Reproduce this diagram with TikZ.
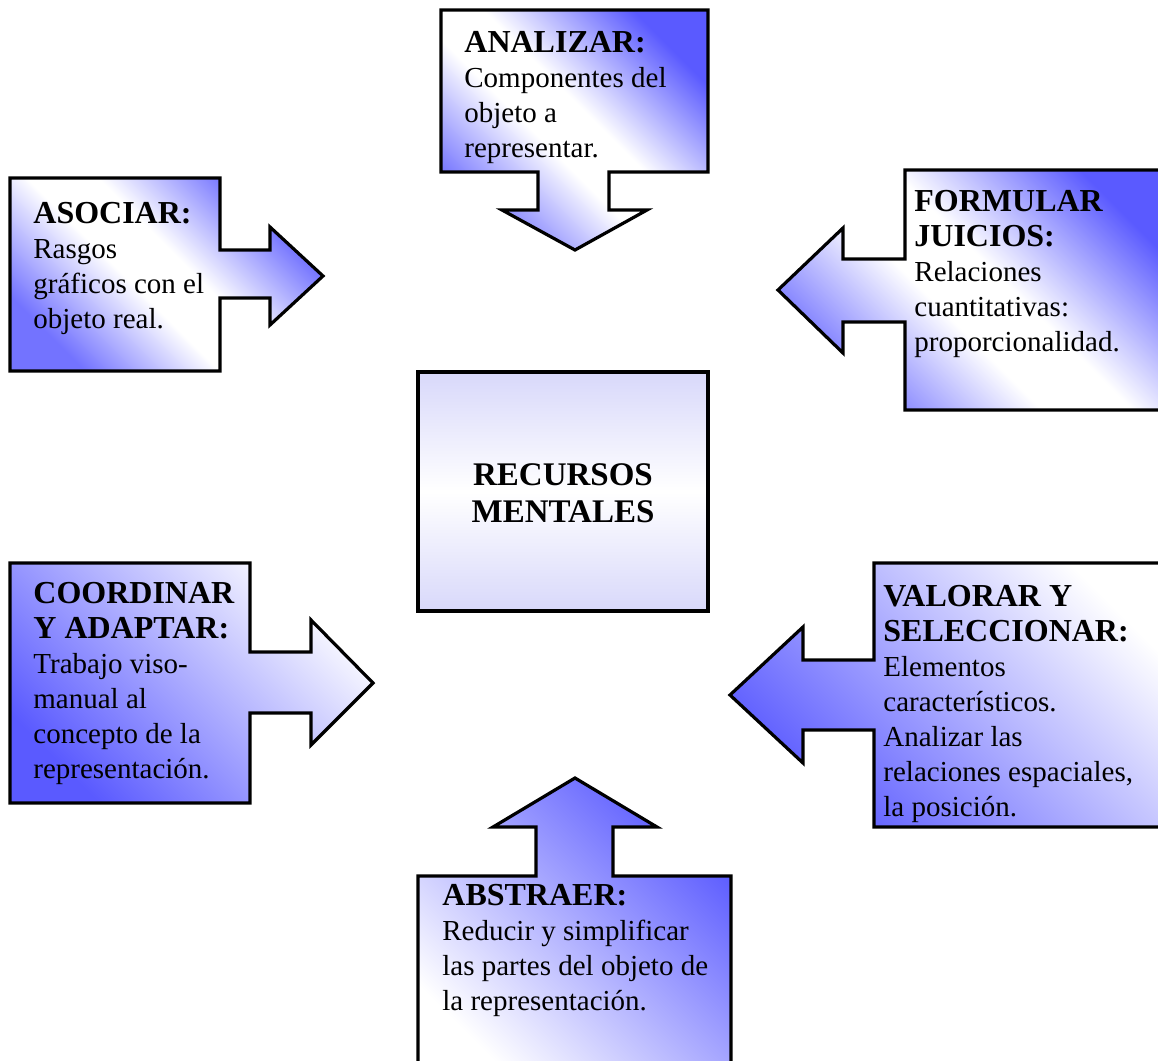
\documentclass[tikz,border=0pt]{standalone}
\usepackage{fontspec}
\setmainfont{Liberation Serif}
\usepackage{xcolor}
\definecolor{cblue}{HTML}{5A5AFF}
\definecolor{clav}{HTML}{D8D8FA}
\usepackage{tikz}
\newcommand{\boxfont}{\fontsize{14.5}{17.5}\selectfont}
\newcommand{\boxhead}[1]{{\fontsize{16}{17.5}\selectfont\bfseries #1}}
\pgfdeclareverticalshading{bluewhiteblue}{100bp}{color(0bp)=(cblue!85!white); color(25bp)=(cblue!85!white);
  color(44bp)=(white); color(54bp)=(white); color(75bp)=(cblue); color(100bp)=(cblue)}

\begin{document}
\begin{tikzpicture}[
  x=0.5pt, y=-0.5pt,
  callout/.style={draw=black, line width=1.6pt, line join=miter},
  diagfill/.style={shade, shading=bluewhiteblue, shading angle=-45},
  risefill/.style={top color=white, bottom color=cblue, shading angle=-45},
  fallfill/.style={top color=cblue, bottom color=white, shading angle=-45},
  centrefill/.style={top color=clav, bottom color=clav, middle color=white},
  boxtext/.style={anchor=north west, inner sep=0pt, align=left, font=\boxfont},
]
  \useasboundingbox (0,0) rectangle (1158,1061);
  \clip (0,0) rectangle (1158,1061);

  \path[callout, diagfill] (441,10) -- (708,10) -- (708,172) -- (609,172) -- (609,210) -- (647,210)
    -- (575,250) -- (502,210) -- (538,210) -- (538,172) -- (441,172) -- cycle;
  \path[callout, diagfill] (10,178) -- (220,178) -- (220,250) -- (270,250) -- (270,227) -- (323,276)
    -- (270,325) -- (270,298) -- (220,298) -- (220,371) -- (10,371) -- cycle;
  \path[callout, diagfill] (1175,170) -- (905,170) -- (905,259) -- (843,259) -- (843,228) -- (778,290)
    -- (843,353) -- (843,322) -- (905,322) -- (905,410) -- (1175,410) -- cycle;
  \path[callout, centrefill] (418,372) rectangle (708,611);
  \path[callout, risefill] (10,563) -- (250,563) -- (250,652) -- (311,652) -- (311,620) -- (373,683)
    -- (311,745) -- (311,713) -- (250,713) -- (250,803) -- (10,803) -- cycle;
  \path[callout, risefill] (1175,563) -- (874,563) -- (874,660) -- (803,660) -- (803,627) -- (730,695)
    -- (803,763) -- (803,730) -- (874,730) -- (874,827) -- (1175,827) -- cycle;
  \path[callout, fallfill] (418,1075) -- (418,876) -- (536,876) -- (536,827) -- (493,827) -- (575,778)
    -- (657,827) -- (613,827) -- (613,876) -- (731,876) -- (731,1075) -- cycle;

  \node[boxtext] (analizar) at (464,31) {\boxhead{ANALIZAR:}\\Componentes del\\objeto a\\representar.};
  \node[boxtext] (asociar) at (33,202) {\boxhead{ASOCIAR:}\\Rasgos\\gráficos con el\\objeto real.};
  \node[boxtext] (formular) at (914,190) {\boxhead{FORMULAR}\\\boxhead{JUICIOS:}\\Relaciones\\cuantitativas:\\proporcionalidad.};
  \node[align=center, font=\fontsize{16.5}{18.5}\selectfont\bfseries, inner sep=0pt] (recursos) at (563,493) {RECURSOS\\MENTALES};
  \node[boxtext] (coordinar) at (33,582) {\boxhead{COORDINAR}\\\boxhead{Y ADAPTAR:}\\Trabajo viso-\\manual al\\concepto de la\\representación.};
  \node[boxtext] (valorar) at (883,585) {\boxhead{VALORAR Y}\\\boxhead{SELECCIONAR:}\\Elementos\\característicos.\\Analizar las\\relaciones espaciales,\\la posición.};
  \node[boxtext] (abstraer) at (442,884) {\boxhead{ABSTRAER:}\\Reducir y simplificar\\las partes del objeto de\\la representación.};
\end{tikzpicture}
\end{document}
